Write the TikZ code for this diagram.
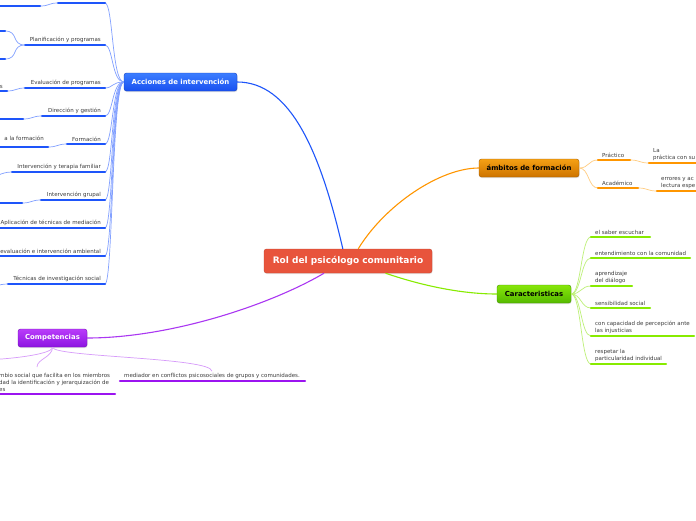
\documentclass[tikz,border=0pt]{standalone}
\usepackage{fontspec}
\setmainfont{DejaVu Sans}
\usepackage{xcolor}
\usepackage{tikz}
\usetikzlibrary{calc,shadows}
\definecolor{rootred}{RGB}{232,84,60}
\definecolor{acctop}{RGB}{60,125,255}
\definecolor{accbot}{RGB}{25,80,240}
\definecolor{accline}{RGB}{30,85,250}
\definecolor{acclight}{RGB}{130,160,255}
\definecolor{ambtop}{RGB}{245,160,20}
\definecolor{ambbot}{RGB}{205,115,0}
\definecolor{ambline}{RGB}{255,150,0}
\definecolor{amblight}{RGB}{255,205,130}
\definecolor{cartop}{RGB}{135,230,10}
\definecolor{carbot}{RGB}{85,185,0}
\definecolor{carline}{RGB}{135,235,0}
\definecolor{carlight}{RGB}{190,240,120}
\definecolor{comptop}{RGB}{185,60,250}
\definecolor{compbot}{RGB}{140,20,225}
\definecolor{compline}{RGB}{155,20,240}
\definecolor{complight}{RGB}{215,155,250}
\definecolor{leaftext}{RGB}{60,60,60}
\tikzset{
  rootbox/.style={rounded corners=2.5pt,fill=rootred,draw=rootred!85!black,line width=0.4pt,
    text=white,font=\fontsize{9}{11}\selectfont\bfseries,minimum width=168pt,minimum height=24pt,inner sep=0pt,
    drop shadow={opacity=0.2,shadow xshift=0.5pt,shadow yshift=-1pt}},
  mainbox/.style={rounded corners=2.5pt,minimum height=18pt,inner sep=0pt,line width=0.4pt,
    font=\fontsize{6.9}{8.5}\selectfont\bfseries,
    drop shadow={opacity=0.25,shadow xshift=0.5pt,shadow yshift=-1pt}},
  leafleft/.style={anchor=south east,align=right,inner xsep=4pt,inner ysep=2pt,
    font=\fontsize{5.5}{7}\selectfont,text=leaftext},
  leafright/.style={anchor=south west,align=left,inner xsep=4pt,inner ysep=2pt,
    font=\fontsize{5.5}{7}\selectfont,text=leaftext},
  mainlink/.style={line width=1.1pt},
  sublink/.style={line width=0.7pt},
  leafline/.style={line width=2.4pt,line cap=round}
}

\begin{document}
\begin{tikzpicture}[x=1pt,y=-1pt]
  \useasboundingbox[fill=white] (0,0) rectangle (696,520);

  % --- Central topic ---
  \node[rootbox] (rol) at (348,261) {Rol del psicólogo comunitario};

  % --- Main topics ---
  \node[mainbox,minimum width=113pt,top color=acctop,bottom color=accbot,draw=accbot!80!black,text=white]
    (acc) at (180.5,82) {Acciones de intervención};
  \node[mainbox,minimum width=100pt,top color=ambtop,bottom color=ambbot,draw=ambbot!80!black,text=black]
    (amb) at (529,168) {ámbitos de formación};
  \node[mainbox,minimum width=74pt,top color=cartop,bottom color=carbot,draw=carbot!80!black,text=black]
    (car) at (534,294) {Caracteristicas};
  \node[mainbox,minimum width=69pt,top color=comptop,bottom color=compbot,draw=compbot!80!black,text=white]
    (comp) at (52.5,338) {Competencias};

  \draw[mainlink,draw=accline] (rol.113) .. controls (320,150) and (290,82) .. (acc.east);
  \draw[mainlink,draw=ambline] (rol.50) .. controls (385,205) and (440,168) .. (amb.west);
  \draw[mainlink,draw=carline] (rol.342) .. controls (420,285) and (460,294) .. (car.west);
  \draw[mainlink,draw=compline!85!white] (rol.207) .. controls (270,305) and (170,338) .. (comp.east);

  % --- Acciones de intervencion ---
  \node[leafleft] (acca) at (105,3) {};
  \node[leafleft] (planif) at (105,45) {Planificación y programas};
  \node[leafleft] (evalprog) at (105,88) {Evaluación de programas};
  \node[leafleft] (direcc) at (105,116) {Dirección y gestión};
  \node[leafleft] (formac) at (105,144) {Formación};
  \node[leafleft] (terapia) at (105,172) {Intervención y terapia familiar};
  \node[leafleft] (grupal) at (105,200) {Intervención grupal};
  \node[leafleft] (mediac) at (105,228) {Aplicación de técnicas de mediación};
  \node[leafleft] (ambient) at (105,256) {evaluación e intervención ambiental};
  \node[leafleft] (investig) at (105,284) {Técnicas de investigación social};

  \foreach \n in {acca,planif,evalprog,direcc,formac,terapia,grupal,mediac,ambient,investig}
    \draw[sublink,draw=acclight] (acc.west) .. controls +(-12,0) and +(8,0) .. (\n.south east);

  \draw[leafline,draw=accline] (acca.south east) -- ++(-47,0);
  \draw[leafline,draw=accline] (planif.south east) -- ++(-80,0);
  \draw[leafline,draw=accline] (evalprog.south east) -- ++(-80,0);
  \draw[leafline,draw=accline] (direcc.south east) -- ++(-63,0);
  \draw[leafline,draw=accline] (formac.south east) -- ++(-38,0);
  \draw[leafline,draw=accline] (terapia.south east) -- ++(-93,0);
  \draw[leafline,draw=accline] (grupal.south east) -- ++(-64,0);
  \draw[leafline,draw=accline] (mediac.south east) -- ++(-110,0);
  \draw[leafline,draw=accline] (ambient.south east) -- ++(-110,0);
  \draw[leafline,draw=accline] (investig.south east) -- ++(-97,0);

  % --- second level on the left (mostly cut off) ---
  \node[leafleft] (accasub) at (40,6) {};
  \node[leafleft] (planifa) at (5,31) {};
  \node[leafleft] (planifb) at (5,59) {};
  \node[leafleft] (evalsub) at (7,91) {s};
  \node[leafleft] (direcsub) at (23,119) {};
  \node[leafleft,inner ysep=6pt] (formsub) at (48,147) {a la formación};
  \node[leafleft] (grupsub) at (22,203) {};
  \coordinate (terapoff) at (-15,178);
  \coordinate (investoff) at (-15,288);

  \draw[sublink,draw=acclight] (acca.south east) ++(-47,0) .. controls +(-10,0) and +(10,0) .. (accasub.south east);
  \draw[sublink,draw=acclight] (planif.south east) ++(-80,0) .. controls +(-14,0) and +(14,0) .. (planifa.south east);
  \draw[sublink,draw=acclight] (planif.south east) ++(-80,0) .. controls +(-14,0) and +(14,0) .. (planifb.south east);
  \draw[sublink,draw=acclight] (evalprog.south east) ++(-80,0) .. controls +(-9,0) and +(9,0) .. (evalsub.south east);
  \draw[sublink,draw=acclight] (direcc.south east) ++(-63,0) .. controls +(-10,0) and +(10,0) .. (direcsub.south east);
  \draw[sublink,draw=acclight] (formac.south east) ++(-38,0) .. controls +(-10,0) and +(10,0) .. (formsub.south east);
  \draw[sublink,draw=acclight] (terapia.south east) ++(-93,0) .. controls +(-12,0) and +(12,0) .. (terapoff);
  \draw[sublink,draw=acclight] (grupal.south east) ++(-64,0) .. controls +(-10,0) and +(10,0) .. (grupsub.south east);
  \draw[sublink,draw=acclight] (investig.south east) ++(-97,0) .. controls +(-12,0) and +(12,0) .. (investoff);

  \draw[leafline,draw=accline] (accasub.south east) -- ++(-70,0);
  \draw[leafline,draw=accline] (planifa.south east) -- ++(-20,0);
  \draw[leafline,draw=accline] (planifb.south east) -- ++(-20,0);
  \draw[leafline,draw=accline] (evalsub.south east) -- ++(-20,0);
  \draw[leafline,draw=accline] (direcsub.south east) -- ++(-40,0);
  \draw[leafline,draw=accline] (formsub.south east) -- ++(-60,0);
  \draw[leafline,draw=accline] (grupsub.south east) -- ++(-40,0);

  % --- ambitos de formacion ---
  \node[leafright] (practico) at (598,160) {Práctico};
  \node[leafright] (academ) at (598,188) {Académico};
  \node[leafright] (pracsub) at (649,163) {La\\práctica con su};
  \node[leafright] (acadsub) at (657,191) {errores y ac\\lectura espe};

  \draw[sublink,draw=amblight] (amb.east) .. controls +(10,0) and +(-10,0) .. (practico.south west);
  \draw[sublink,draw=amblight] (amb.east) .. controls +(10,0) and +(-10,0) .. (academ.south west);
  \draw[sublink,draw=amblight] (practico.south west) ++(32,0) .. controls +(10,0) and +(-10,0) .. (pracsub.south west);
  \draw[sublink,draw=amblight] (academ.south west) ++(40,0) .. controls +(10,0) and +(-10,0) .. (acadsub.south west);

  \draw[leafline,draw=ambline] (practico.south west) -- ++(32,0);
  \draw[leafline,draw=ambline] (academ.south west) -- ++(40,0);
  \draw[leafline,draw=ambline] (pracsub.south west) -- ++(60,0);
  \draw[leafline,draw=ambline] (acadsub.south west) -- ++(60,0);

  % --- Caracteristicas ---
  \node[leafright] (escuchar) at (591,237) {el saber escuchar};
  \node[leafright] (entend) at (591,258) {entendimiento con la comunidad};
  \node[leafright] (aprend) at (591,286) {aprendizaje\\del diálogo};
  \node[leafright] (sensib) at (591,308) {sensibilidad social};
  \node[leafright] (percep) at (591,336) {con capacidad de percepción ante\\las injusticias};
  \node[leafright] (respeto) at (591,364) {respetar la\\particularidad individual};

  \foreach \n in {escuchar,entend,aprend,sensib,percep,respeto}
    \draw[sublink,draw=carlight] (car.east) .. controls +(10,0) and +(-10,0) .. (\n.south west);

  \draw[leafline,draw=carline] (escuchar.south west) -- ++(59,0);
  \draw[leafline,draw=carline] (entend.south west) -- ++(99,0);
  \draw[leafline,draw=carline] (aprend.south west) -- ++(41,0);
  \draw[leafline,draw=carline] (sensib.south west) -- ++(59,0);
  \draw[leafline,draw=carline] (percep.south west) -- ++(103,0);
  \draw[leafline,draw=carline] (respeto.south west) -- ++(75,0);

  % --- Competencias ---
  \node[leafright] (agente) at (-5,394)
    {mbio social que facilita en los miembros\\dad la identificación y jerarquización de\\es};
  \node[leafright] (mediador) at (120,381) {mediador en conflictos psicosociales de grupos y comunidades.};
  \coordinate (agtop) at (37,367);
  \coordinate (compoff) at (-20,360);

  \draw[sublink,draw=complight] (comp.south) .. controls +(0,10) and +(0,-8) .. (agtop);
  \draw[sublink,draw=complight] (comp.south) .. controls +(0,10) and +(0,-14) .. (mediador.north);
  \draw[sublink,draw=complight] (comp.south) .. controls +(0,8) and +(20,0) .. (compoff);

  \draw[leafline,draw=compline] (agente.south west) -- ++(120,0);
  \draw[leafline,draw=compline] (mediador.south west) -- ++(185,0);

\end{tikzpicture}
\end{document}
